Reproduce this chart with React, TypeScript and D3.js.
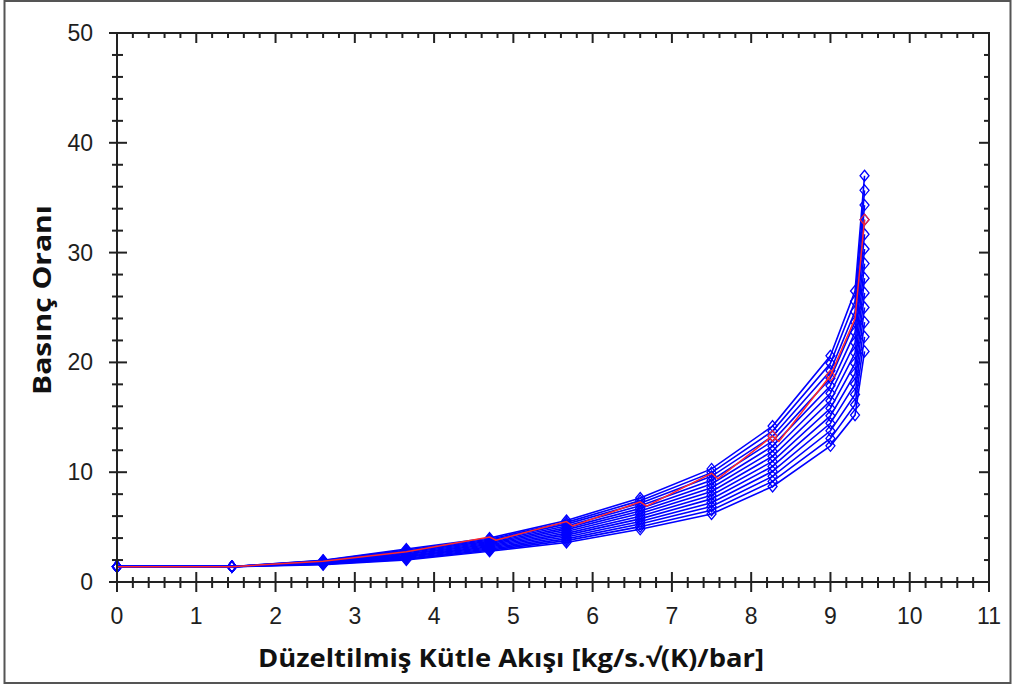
import React from "react";
import * as d3 from "d3";

// Corrected mass flow columns (x positions of the data points)
const massFlow = [0, 1.45, 2.6, 3.65, 4.7, 5.67, 6.6, 7.5, 8.27, 9.0, 9.31, 9.43];

// Pressure ratio lines (top to bottom)
const line01 = [1.4, 1.4, 1.98, 3.0, 4.0, 5.6, 7.65, 10.3, 14.2, 20.6, 26.5, 37.0];
const line02 = [1.4, 1.4, 1.95, 2.92, 3.9, 5.43, 7.41, 9.96, 13.74, 19.92, 25.56, 35.67];
const line03 = [1.4, 1.4, 1.92, 2.83, 3.8, 5.27, 7.18, 9.62, 13.28, 19.23, 24.62, 34.33];
const line04 = [1.4, 1.4, 1.88, 2.75, 3.7, 5.1, 6.94, 9.27, 12.83, 18.55, 23.68, 33.0];
const line05 = [1.4, 1.4, 1.85, 2.67, 3.6, 4.93, 6.7, 8.93, 12.37, 17.87, 22.73, 31.67];
const line06 = [1.4, 1.4, 1.82, 2.58, 3.5, 4.77, 6.46, 8.59, 11.91, 17.18, 21.79, 30.33];
const line07 = [1.4, 1.4, 1.78, 2.5, 3.4, 4.6, 6.23, 8.25, 11.45, 16.5, 20.85, 29.0];
const line08 = [1.4, 1.4, 1.75, 2.42, 3.3, 4.43, 5.99, 7.91, 10.99, 15.82, 19.91, 27.67];
const line09 = [1.4, 1.4, 1.72, 2.33, 3.2, 4.27, 5.75, 7.57, 10.53, 15.13, 18.97, 26.33];
const line10 = [1.4, 1.4, 1.68, 2.25, 3.1, 4.1, 5.51, 7.22, 10.08, 14.45, 18.03, 25.0];
const line11 = [1.4, 1.4, 1.65, 2.17, 3.0, 3.93, 5.28, 6.88, 9.62, 13.77, 17.08, 23.67];
const line12 = [1.4, 1.4, 1.62, 2.08, 2.9, 3.77, 5.04, 6.54, 9.16, 13.08, 16.14, 22.33];
const line13 = [1.4, 1.4, 1.58, 2.0, 2.8, 3.6, 4.8, 6.2, 8.7, 12.4, 15.2, 21.0];
const blueLines = [line01, line02, line03, line04, line05, line06, line07, line08, line09, line10, line11, line12, line13];

// Highlighted (red) line
const redX = [0, 1.45, 2.6, 3.65, 4.7, 4.78, 5.67, 5.75, 6.6, 6.68, 7.5, 7.58, 8.27, 8.35, 9.0, 9.31, 9.43];
const redY = [1.4, 1.4, 1.88, 2.75, 4.1, 3.8, 5.5, 5.1, 7.3, 6.9, 9.9, 9.4, 13.3, 12.8, 18.8, 24.0, 33.0];
const redMarkX = [0, 1.45, 2.6, 3.65, 4.7, 5.67, 6.6, 7.5, 8.27, 9.0, 9.43];
const redMarkY = [1.4, 1.4, 1.88, 2.75, 4.1, 5.5, 7.3, 9.9, 13.3, 18.8, 33.0];

const xTicks = [0, 1, 2, 3, 4, 5, 6, 7, 8, 9, 10, 11];
const yTicks = [0, 10, 20, 30, 40, 50];
const xTitle = "Düzeltilmiş Kütle Akışı [kg/s.√(K)/bar]";
const yTitle = "Basınç Oranı";

const W = 1014;
const H = 687;
const L = 117, R = 989, T = 33, B = 582;

export default function App() {
  const x = d3.scaleLinear().domain([0, 11]).range([L, R]);
  const y = d3.scaleLinear().domain([0, 50]).range([B, T]);
  const line = d3.line<[number, number]>().x((d) => x(d[0])).y((d) => y(d[1]));

  const xMinor = d3.range(0, 11.001, 0.2).filter((v) => Math.abs(v - Math.round(v)) > 1e-6);
  const yMinor = d3.range(0, 50.001, 2).filter((v) => v % 10 !== 0);

  const diamond = (cx: number, cy: number) =>
    `M${cx},${cy - 5.5}L${cx + 4.5},${cy}L${cx},${cy + 5.5}L${cx - 4.5},${cy}Z`;

  const axisColor = "#222";
  const tickFont = "'Liberation Sans', Arial, sans-serif";

  return (
    <svg width={W} height={H} style={{ position: "absolute", left: 0, top: 0, background: "#fff" }}>
      <rect x={4.5} y={1} width={1006} height={682} fill="#fff" stroke="#555" strokeWidth={2} />

      {/* data */}
      <g>
        {blueLines.map((vals, i) => (
          <g key={i}>
            <path
              d={line(massFlow.map((m, j) => [m, vals[j]] as [number, number])) || ""}
              fill="none"
              stroke="#0000ff"
              strokeWidth={1.6}
            />
            {massFlow.map((m, j) => (
              <path key={j} d={diamond(x(m), y(vals[j]))} fill="none" stroke="#0000ff" strokeWidth={1.3} />
            ))}
          </g>
        ))}
        <path
          d={line(redX.map((m, j) => [m, redY[j]] as [number, number])) || ""}
          fill="none"
          stroke="#ff2a2a"
          strokeWidth={1.5}
        />
        {redMarkX.slice(8).map((m, j) => (
          <path key={j} d={diamond(x(m), y(redMarkY[j + 8]))} fill="none" stroke="#ff2a2a" strokeWidth={1.2} />
        ))}
      </g>

      {/* axes frame */}
      <rect x={L} y={T} width={R - L} height={B - T} fill="none" stroke={axisColor} strokeWidth={2} />

      {/* bottom/top axis ticks */}
      {xTicks.map((v) => (
        <g key={"xb" + v}>
          <line x1={x(v)} x2={x(v)} y1={B - 10} y2={B + 10} stroke={axisColor} strokeWidth={2} />
          <line x1={x(v)} x2={x(v)} y1={T} y2={T + 10} stroke={axisColor} strokeWidth={2} />
          <text x={x(v)} y={624} textAnchor="middle" fontFamily={tickFont} fontSize={23} fill="#1e1e1e">
            {v}
          </text>
        </g>
      ))}
      {xMinor.map((v, i) => (
        <g key={"xm" + i}>
          <line x1={x(v)} x2={x(v)} y1={B - 5} y2={B + 6} stroke={axisColor} strokeWidth={2} />
          <line x1={x(v)} x2={x(v)} y1={T} y2={T + 5} stroke={axisColor} strokeWidth={2} />
        </g>
      ))}

      {/* left/right axis ticks */}
      {yTicks.map((v) => (
        <g key={"yl" + v}>
          <line x1={L - 8} x2={L + 10} y1={y(v)} y2={y(v)} stroke={axisColor} strokeWidth={2} />
          <line x1={R - 10} x2={R} y1={y(v)} y2={y(v)} stroke={axisColor} strokeWidth={2} />
          <text x={93} y={y(v) + 8} textAnchor="end" fontFamily={tickFont} fontSize={23} fill="#1e1e1e">
            {v}
          </text>
        </g>
      ))}
      {yMinor.map((v, i) => (
        <g key={"ym" + i}>
          <line x1={L - 5} x2={L + 6} y1={y(v)} y2={y(v)} stroke={axisColor} strokeWidth={2} />
          <line x1={R - 5} x2={R} y1={y(v)} y2={y(v)} stroke={axisColor} strokeWidth={2} />
        </g>
      ))}

      {/* titles */}
      <text
        x={511}
        y={667}
        textAnchor="middle"
        fontFamily="'Open Sans', sans-serif"
        fontWeight="bold"
        fontSize={25}
        textLength={506}
        lengthAdjust="spacingAndGlyphs"
        fill="#111"
      >
        {xTitle}
      </text>
      <text
        transform={`translate(51, 300) rotate(-90)`}
        textAnchor="middle"
        fontFamily="'Open Sans', sans-serif"
        fontWeight="bold"
        fontSize={25}
        textLength={190}
        lengthAdjust="spacingAndGlyphs"
        fill="#111"
      >
        {yTitle}
      </text>
    </svg>
  );
}
